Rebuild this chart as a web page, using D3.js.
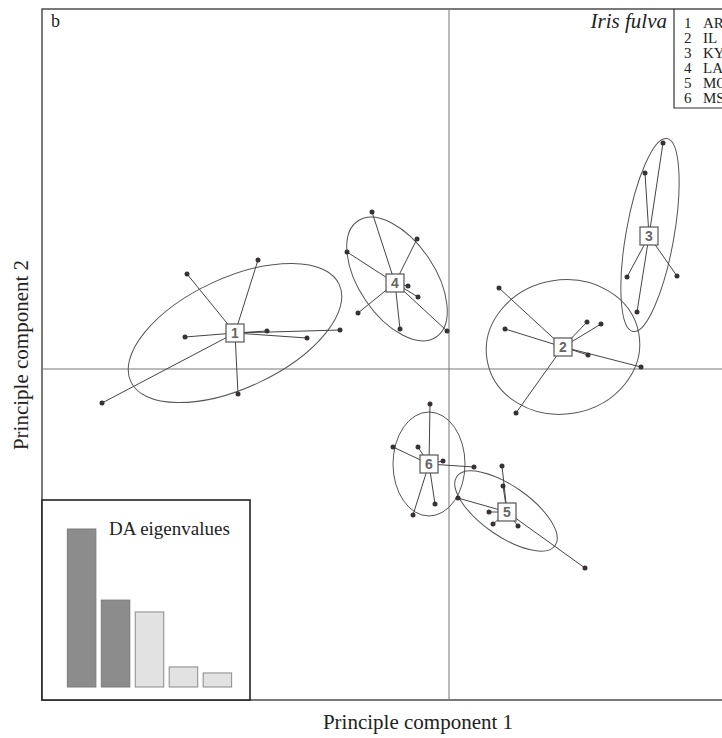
<!DOCTYPE html>
<meta charset="utf-8">
<script src="https://d3js.org/d3.v7.min.js"></script>
<style>
  body { margin: 0; background: #fff; }
  text { font-family: "Liberation Serif", "DejaVu Serif", serif; fill: #222; }
</style>
<div id="my_dataviz"></div>
<script>
  // population labels
  var groups = ["1", "2", "3", "4", "5", "6"];
  var states = ["AR", "IL", "KY", "LA", "MO", "MS"];

  // group centroids on PC1 / PC2
  var centroids = [
    [-4.28, 0.72], [2.28, 0.44], [4.00, 2.66],
    [-1.08, 1.72], [1.16, -2.86], [-0.40, -1.90]
  ];

  // individuals per group
  var indiv1 = [[-5.24, 1.90], [-3.82, 2.18], [-5.28, 0.64], [-3.64, 0.76], [-2.18, 0.78], [-2.84, 0.62], [-4.22, -0.50], [-6.94, -0.68]];
  var indiv2 = [[1.00, 1.62], [1.12, 0.80], [2.76, 0.94], [3.04, 0.90], [2.78, 0.28], [3.84, 0.04], [1.34, -0.88]];
  var indiv3 = [[4.28, 4.52], [3.92, 3.92], [3.56, 1.84], [4.56, 1.86], [3.76, 1.14]];
  var indiv4 = [[-1.54, 3.14], [-0.64, 2.60], [-2.04, 2.34], [-0.82, 1.66], [-0.62, 1.44], [-1.82, 1.12], [-0.98, 0.80], [-0.04, 0.76]];
  var indiv5 = [[1.06, -1.94], [1.08, -2.34], [0.18, -2.58], [0.80, -2.86], [0.88, -3.10], [1.38, -3.14], [2.72, -3.98]];
  var indiv6 = [[-0.38, -0.70], [-1.12, -1.56], [-0.62, -1.56], [-0.12, -1.84], [0.50, -1.96], [-0.28, -2.70], [-0.72, -2.92]];
  var individuals = [indiv1, indiv2, indiv3, indiv4, indiv5, indiv6];

  // inertia ellipses: centre x, centre y, semi axis 1, semi axis 2, angle (deg)
  var ellipses = [
    [-4.28, 0.72, 2.30, 1.10, 25],
    [2.28, 0.44, 1.54, 1.34, 10],
    [4.02, 2.68, 1.96, 0.48, 80],
    [-1.04, 1.80, 1.40, 0.76, -56],
    [1.14, -2.84, 1.20, 0.50, -35],
    [-0.40, -1.90, 0.72, 1.04, 0]
  ];

  // DA eigenvalues (first two retained)
  var eigenvalues = [100, 55, 47.5, 12.7, 8.9];
  var retained = 2;

  var W = 722, H = 738;
  var frame = {left: 42, top: 9, right: 770, bottom: 700};

  var svg = d3.select("#my_dataviz")
    .append("svg")
      .attr("width", W)
      .attr("height", H);

  var x = d3.scaleLinear()
    .domain([-8.14, 6.42])
    .range([frame.left, frame.right]);
  var y = d3.scaleLinear()
    .domain([-6.62, 7.2])
    .range([frame.bottom, frame.top]);
  var k = x(1) - x(0);

  // frame
  svg.append("rect")
    .attr("x", frame.left).attr("y", frame.top)
    .attr("width", frame.right - frame.left)
    .attr("height", frame.bottom - frame.top)
    .attr("fill", "none").attr("stroke", "#333").attr("stroke-width", 1.3);

  // zero lines
  svg.append("line")
    .attr("x1", frame.left).attr("x2", frame.right)
    .attr("y1", y(0)).attr("y2", y(0))
    .attr("stroke", "#777").attr("stroke-width", 1);
  svg.append("line")
    .attr("x1", x(0)).attr("x2", x(0))
    .attr("y1", frame.top).attr("y2", frame.bottom)
    .attr("stroke", "#777").attr("stroke-width", 1);

  // ellipses
  svg.append("g").selectAll("ellipse")
    .data(ellipses)
    .enter().append("ellipse")
      .attr("transform", function(d) { return "translate(" + x(d[0]) + "," + y(d[1]) + ") rotate(" + (-d[4]) + ")"; })
      .attr("rx", function(d) { return d[2] * k; })
      .attr("ry", function(d) { return d[3] * k; })
      .attr("fill", "none")
      .attr("stroke", "#555")
      .attr("stroke-width", 1);

  // star segments + dots
  individuals.forEach(function(pts, i) {
    var c = centroids[i];
    var g = svg.append("g");
    g.selectAll("line")
      .data(pts)
      .enter().append("line")
        .attr("x1", x(c[0])).attr("y1", y(c[1]))
        .attr("x2", function(d) { return x(d[0]); })
        .attr("y2", function(d) { return y(d[1]); })
        .attr("stroke", "#444")
        .attr("stroke-width", 1);
    g.selectAll("circle")
      .data(pts)
      .enter().append("circle")
        .attr("cx", function(d) { return x(d[0]); })
        .attr("cy", function(d) { return y(d[1]); })
        .attr("r", 2.5)
        .attr("fill", "#3a3038");
  });

  // centroid labels
  var lab = svg.append("g").selectAll("g")
    .data(centroids)
    .enter().append("g")
      .attr("transform", function(d) { return "translate(" + x(d[0]) + "," + y(d[1]) + ")"; });
  lab.append("rect")
    .attr("x", -9).attr("y", -9).attr("width", 18).attr("height", 18)
    .attr("fill", "#fff").attr("stroke", "#555").attr("stroke-width", 1.2);
  lab.append("text")
    .attr("text-anchor", "middle")
    .attr("y", 5)
    .style("font-family", "'Liberation Sans', Arial, sans-serif")
    .style("font-weight", "bold")
    .style("font-size", "14px")
    .style("fill", "#666")
    .text(function(d, i) { return groups[i]; });

  // panel letter and species
  svg.append("text")
    .attr("x", 51).attr("y", 27)
    .style("font-size", "18px")
    .text("b");
  svg.append("text")
    .attr("x", 667).attr("y", 28)
    .attr("text-anchor", "end")
    .style("font-size", "21px")
    .style("font-style", "italic")
    .text("Iris fulva");

  // legend
  var legTop = frame.top, legLeft = 674, legBottom = 108;
  svg.append("path")
    .attr("d", "M" + legLeft + "," + legTop + "V" + legBottom + "H" + frame.right)
    .attr("fill", "none").attr("stroke", "#333").attr("stroke-width", 1.2);
  var leg = svg.append("g").selectAll("g")
    .data(states)
    .enter().append("g")
      .attr("transform", function(d, i) { return "translate(0," + (28 + i * 15) + ")"; });
  leg.append("text")
    .attr("x", 684)
    .style("font-size", "15px")
    .text(function(d, i) { return groups[i]; });
  leg.append("text")
    .attr("x", 703)
    .style("font-size", "15px")
    .text(function(d) { return d; });

  // axis titles
  svg.append("text")
    .attr("x", 418).attr("y", 729)
    .attr("text-anchor", "middle")
    .style("font-size", "21px")
    .text("Principle component 1");
  svg.append("text")
    .attr("transform", "translate(28," + 355 + ") rotate(-90)")
    .attr("text-anchor", "middle")
    .style("font-size", "21px")
    .text("Principle component 2");

  // eigenvalue inset
  var inset = {left: 42, top: 500, right: 250, bottom: 700};
  svg.append("rect")
    .attr("x", inset.left).attr("y", inset.top)
    .attr("width", inset.right - inset.left)
    .attr("height", inset.bottom - inset.top)
    .attr("fill", "#fff").attr("stroke", "#222").attr("stroke-width", 1.6);

  var bx = d3.scaleBand()
    .domain(d3.range(eigenvalues.length))
    .range([66, 233])
    .paddingInner(0.16)
    .paddingOuter(0.04);
  var by = d3.scaleLinear()
    .domain([0, 100])
    .range([687, 529]);

  svg.append("g").selectAll("rect")
    .data(eigenvalues)
    .enter().append("rect")
      .attr("x", function(d, i) { return bx(i); })
      .attr("y", function(d) { return by(d); })
      .attr("width", bx.bandwidth())
      .attr("height", function(d) { return by(0) - by(d); })
      .attr("fill", function(d, i) { return i < retained ? "#8c8c8c" : "#e2e2e2"; })
      .attr("stroke", function(d, i) { return i < retained ? "#7a7a7a" : "#8a8a8a"; })
      .attr("stroke-width", 1);

  svg.append("text")
    .attr("x", 109).attr("y", 535)
    .style("font-size", "19px")
    .text("DA eigenvalues");
</script>
